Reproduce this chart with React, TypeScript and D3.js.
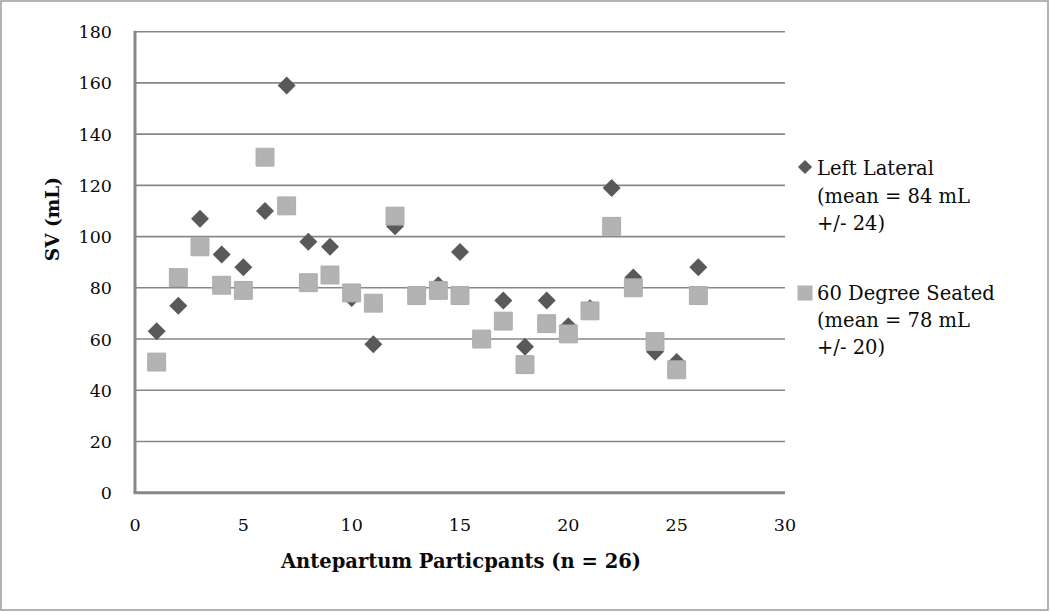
import React from "react";
import * as d3 from "d3";

const participants = d3.range(1, 27);
const leftLateral = [63, 73, 107, 93, 88, 110, 159, 98, 96, 76, 58, 104, 77, 81, 94, 60, 75, 57, 75, 65, 72, 119, 84, 55, 51, 88];
const seated60 = [51, 84, 96, 81, 79, 131, 112, 82, 85, 78, 74, 108, 77, 79, 77, 60, 67, 50, 66, 62, 71, 104, 80, 59, 48, 77];
const yTicks = [0, 20, 40, 60, 80, 100, 120, 140, 160, 180];
const xTicks = [0, 5, 10, 15, 20, 25, 30];
const legendLL = ["Left Lateral", "(mean = 84 mL", "+/- 24)"];
const legendS = ["60 Degree Seated", "(mean = 78 mL", "+/- 20)"];

const W = 1050, H = 612;
const L = 135, R = 785, T = 31.7, B = 492.7;
const FONT = "'DejaVu Serif', serif";

export default function App() {
  const x = d3.scaleLinear().domain([0, 30]).range([L, R]);
  const y = d3.scaleLinear().domain([0, 180]).range([B, T]);
  const diamond = d3.symbol().type(d3.symbolSquare).size(162)();
  const square = d3.symbol().type(d3.symbolSquare).size(320)();
  const legendSquare = d3.symbol().type(d3.symbolSquare).size(225)();
  const legendDiamond = d3.symbol().type(d3.symbolSquare).size(100)();
  const grid = "#878787";
  const ink = "#0a0a0a";

  return (
    <svg width={W} height={H} style={{ position: "absolute", left: 0, top: 0, background: "#fff" }} fontFamily={FONT}>
      <rect x={1} y={1} width={W - 3} height={H - 3} fill="#fff" stroke="#9a9a9a" strokeWidth={1.5} />
      {yTicks.filter((t) => t > 0).map((t) => (
        <line key={t} x1={L} x2={R} y1={y(t)} y2={y(t)} stroke={grid} strokeWidth={1.6} />
      ))}
      <line x1={L} x2={L} y1={T - 1} y2={B} stroke={grid} strokeWidth={3} />
      <line x1={L - 1.5} x2={R} y1={B} y2={B} stroke={grid} strokeWidth={3} />
      {yTicks.map((t) => (
        <text key={t} x={112} y={y(t) + 6.5} textAnchor="end" fontSize={17.5} fill={ink}>{t}</text>
      ))}
      {xTicks.map((t) => (
        <text key={t} x={x(t)} y={531} textAnchor="middle" fontSize={17.5} fill={ink}>{t}</text>
      ))}
      <text x={461} y={568} textAnchor="middle" fontSize={19.5} fontWeight="bold" fill={ink}>Antepartum Particpants (n = 26)</text>
      <text transform={`translate(59,${219}) rotate(-90)`} textAnchor="middle" fontSize={18.5} fontWeight="bold" fill={ink}>SV (mL)</text>
      {participants.map((p, i) => (
        <path key={"d" + p} d={diamond} transform={`translate(${x(p)},${y(leftLateral[i])}) rotate(45)`} fill="#595959" />
      ))}
      {participants.map((p, i) => (
        <path key={"s" + p} d={square} transform={`translate(${x(p)},${y(seated60[i])})`} fill="#b3b3b3" stroke="#acacac" strokeWidth={1} />
      ))}
      <path d={legendDiamond} transform="translate(805,167) rotate(45)" fill="#595959" />
      {legendLL.map((s, i) => (
        <text key={s} x={817} y={175 + i * 27.5} fontSize={19.5} fill={ink}>{s}</text>
      ))}
      <path d={legendSquare} transform="translate(805,293)" fill="#b3b3b3" />
      {legendS.map((s, i) => (
        <text key={s} x={817} y={300 + i * 27} fontSize={19.5} fill={ink}>{s}</text>
      ))}
    </svg>
  );
}
